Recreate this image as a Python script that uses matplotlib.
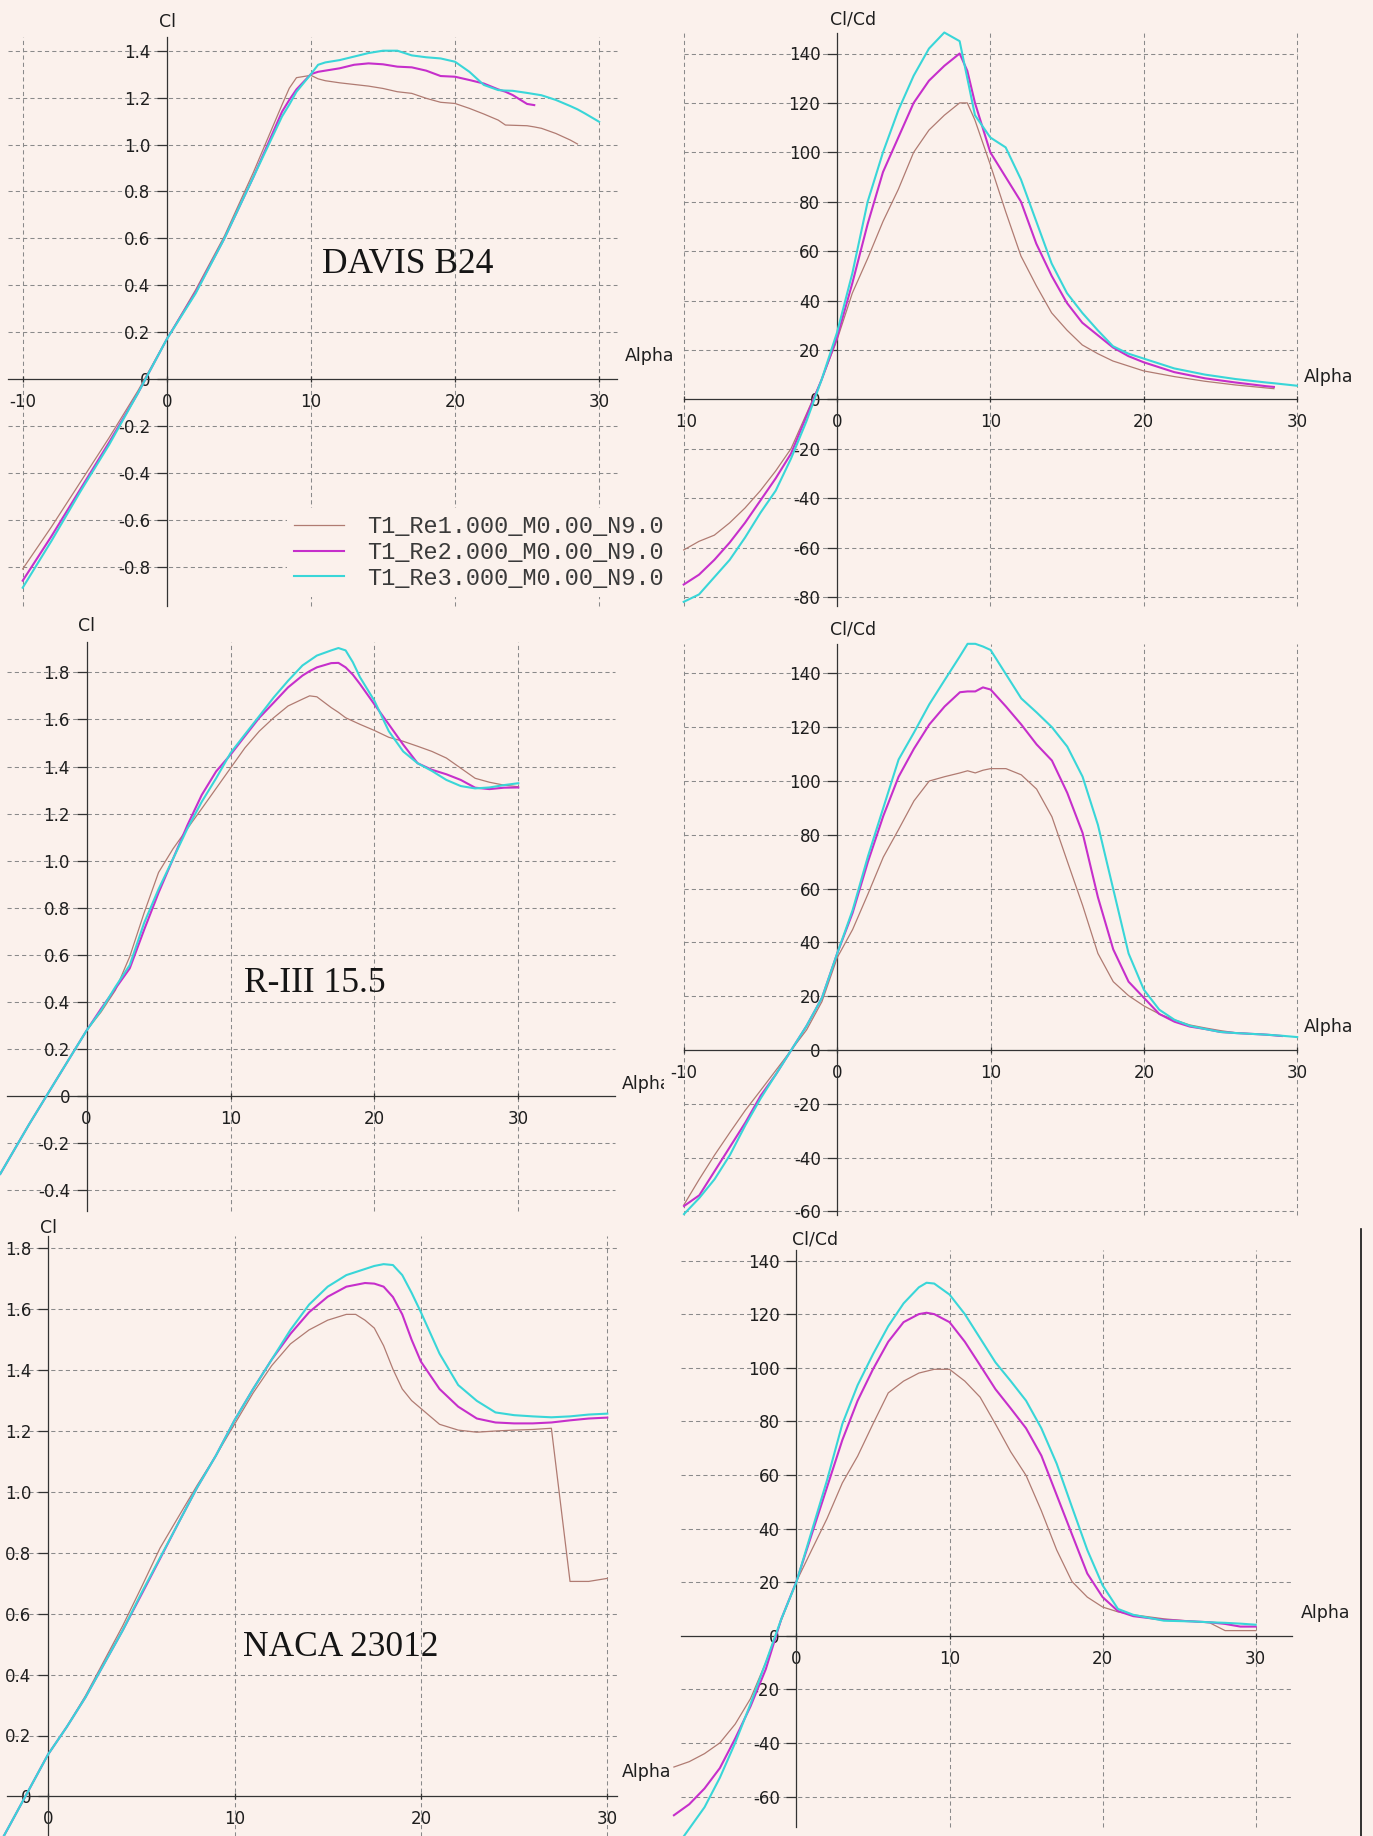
import matplotlib
matplotlib.use("Agg")
import matplotlib.pyplot as plt

plt.rcParams['axes.unicode_minus'] = False
plt.rcParams['font.family'] = ['DejaVu Sans']

# ---------------------------------------------------------------- data
series_labels = ['T1_Re1.000_M0.00_N9.0', 'T1_Re2.000_M0.00_N9.0', 'T1_Re3.000_M0.00_N9.0']

# DAVIS B24 - Cl vs Alpha
davis_cl_alpha = [-10, -8, -6, -4, -2, 0, 2, 4, 6, 8, 8.5, 9, 10, 10.5, 11, 12, 13, 14, 15, 16,
                  17, 18, 19, 20, 21, 22, 23, 23.5, 24, 25, 25.5, 26, 27, 28, 28.5, 29, 30]
davis_cl_re1 = [-0.81, -0.63, -0.44, -0.25, -0.05, 0.17, 0.38, 0.61, 0.88, 1.17, 1.24, 1.285, 1.295,
                1.28, 1.272, 1.263, 1.256, 1.249, 1.239, 1.225, 1.218, 1.197, 1.18, 1.175, 1.154,
                1.13, 1.104, 1.083, 1.082, 1.08, 1.075, 1.069, 1.047, 1.019, 1.002]
davis_cl_re2 = [-0.86, -0.67, -0.47, -0.27, -0.06, 0.17, 0.37, 0.60, 0.86, 1.14, 1.19, 1.235, 1.30,
                1.31, 1.315, 1.325, 1.34, 1.346, 1.342, 1.332, 1.329, 1.315, 1.292, 1.289, 1.275,
                1.26, 1.235, 1.225, 1.211, 1.173, 1.168]
davis_cl_re3 = [-0.89, -0.69, -0.48, -0.28, -0.06, 0.17, 0.365, 0.60, 0.86, 1.12, 1.17, 1.225, 1.30,
                1.34, 1.35, 1.36, 1.375, 1.39, 1.40, 1.40, 1.38, 1.372, 1.367, 1.353, 1.31,
                1.254, 1.232, 1.23, 1.229, 1.22, 1.215, 1.21, 1.19, 1.164, 1.15, 1.133, 1.097]

# DAVIS B24 - Cl/Cd vs Alpha
davis_ld_alpha = [-10, -9, -8, -7, -6, -5, -4, -3, -2, -1, 0, 1, 2, 3, 4, 5, 6, 7, 8, 8.5,
                  9, 10, 11, 12, 13, 14, 15, 16, 17, 18, 19, 20, 22, 24, 26, 28, 28.5, 30]
davis_ld_re1 = [-61, -57.5, -55, -50, -44, -37, -29, -20, -6, 8, 24, 43, 57, 72, 85, 100, 109, 115,
                120, 120, 113, 95, 76, 58, 46, 35, 28, 22, 18.5, 15.5, 13.5, 11.5, 9.2, 7.3, 5.8,
                4.6, 4.3]
davis_ld_re2 = [-75, -71, -65, -58, -50, -41, -32, -22, -7, 8, 25, 47, 71, 92, 106, 120, 129, 135,
                140, 133, 120, 100, 90, 80, 63, 50, 39, 31, 26, 21, 17.5, 15, 11, 8.5, 6.8, 5.3, 5.0]
davis_ld_re3 = [-82, -79, -72, -65, -56, -46, -37, -24, -9, 8, 27, 51, 80, 100, 117, 131, 142, 148.5,
                145, 130, 115, 106, 102, 89, 72, 55, 43, 35, 28, 21.5, 18.5, 16.5, 12.5, 10, 8.2,
                6.8, 6.5, 5.5]

# R-III 15.5 - Cl vs Alpha
r3_cl_alpha = [-6, -4, -2, 0, 1, 2, 3, 4, 5, 6, 7, 8, 9, 10, 11, 12, 13, 14, 15, 15.5, 16, 17,
               17.5, 18, 18.5, 19, 20, 21, 22, 23, 24, 25, 26, 27, 28, 29, 30]
r3_cl_re1 = [-0.33, -0.12, 0.08, 0.279, 0.357, 0.45, 0.593, 0.779, 0.95, 1.05, 1.136, 1.221, 1.307,
             1.393, 1.479, 1.55, 1.607, 1.657, 1.686, 1.70, 1.696, 1.65, 1.63, 1.607, 1.593, 1.579,
             1.553, 1.524, 1.507, 1.486, 1.464, 1.436, 1.393, 1.35, 1.333, 1.321, 1.314]
r3_cl_re2 = [-0.33, -0.12, 0.08, 0.279, 0.371, 0.457, 0.543, 0.707, 0.864, 1.007, 1.15, 1.279, 1.379,
             1.45, 1.529, 1.607, 1.671, 1.736, 1.786, 1.805, 1.821, 1.839, 1.84, 1.821, 1.79, 1.75,
             1.664, 1.579, 1.493, 1.414, 1.386, 1.367, 1.343, 1.31, 1.304, 1.31, 1.311]
r3_cl_re3 = [-0.33, -0.12, 0.08, 0.279, 0.364, 0.464, 0.557, 0.736, 0.879, 1.007, 1.136, 1.25, 1.35,
             1.457, 1.536, 1.614, 1.693, 1.764, 1.829, 1.85, 1.871, 1.893, 1.903, 1.893, 1.843,
             1.779, 1.679, 1.55, 1.464, 1.414, 1.381, 1.343, 1.317, 1.307, 1.311, 1.321, 1.329]

# R-III 15.5 - Cl/Cd vs Alpha
r3_ld_alpha = [-10, -9, -8, -7, -6, -5, -4, -3, -2, -1, 0, 1, 2, 3, 4, 5, 6, 7, 8, 8.5, 9, 9.5,
               10, 11, 12, 13, 14, 15, 16, 17, 18, 19, 20, 21, 22, 23, 24, 25, 26, 28, 29, 30]
r3_ld_re1 = [-57.5, -48, -39, -30.6, -22.4, -15, -7.5, 0, 7.5, 18, 34.4, 44.8, 58, 71.7, 82, 92.6,
             100, 101.6, 103, 103.8, 103, 104, 104.6, 104.6, 102.3, 97, 86.7, 70.2, 53.8, 35.9,
             25.4, 20.2, 16.4, 13.4, 11.2, 9.3, 8.2, 7.2, 6.4, 5.7, 5.2]
r3_ld_re2 = [-58, -54, -45, -36, -27, -17, -9, 0, 9, 19.4, 36, 51, 70, 87, 101.6, 112, 121, 127.7,
             133, 133.3, 133.3, 134.8, 134, 127.7, 121, 113.6, 107.6, 95.6, 80.7, 56.8, 37.4, 25.4,
             19.4, 13.4, 10.5, 8.7, 7.8, 6.7, 6.3, 5.7, 5.2]
r3_ld_re3 = [-61, -55, -48, -39, -28, -18, -9, 0, 9, 19.4, 36, 52, 72, 90, 108, 118, 128.5, 137.5,
             146.4, 151, 151, 150, 148.7, 139.7, 130.7, 125.5, 120, 112.8, 101.6, 83.7, 59.8, 35.9,
             22.4, 15, 11.2, 9, 7.8, 6.7, 6.3, 5.7, 5.3, 4.8]

# NACA 23012 - Cl vs Alpha
naca_cl_alpha = [-3, -2, -1, 0, 1, 2, 3, 4, 5, 6, 7, 8, 9, 10, 11, 12, 13, 14, 15, 16, 16.5, 17,
                 17.5, 18, 18.5, 19, 19.5, 20, 21, 22, 23, 24, 25, 26, 27, 28, 29, 30]
naca_cl_re1 = [-0.2, -0.088, 0.025, 0.138, 0.228, 0.33, 0.445, 0.56, 0.686, 0.815, 0.919, 1.022,
               1.119, 1.222, 1.325, 1.415, 1.486, 1.532, 1.564, 1.583, 1.583, 1.564, 1.538, 1.48,
               1.403, 1.338, 1.30, 1.274, 1.222, 1.203, 1.196, 1.2, 1.203, 1.205, 1.209, 0.706,
               0.706, 0.716]
naca_cl_re2 = [-0.2, -0.088, 0.025, 0.138, 0.228, 0.325, 0.435, 0.545, 0.662, 0.78, 0.899, 1.015,
               1.119, 1.235, 1.338, 1.435, 1.519, 1.59, 1.641, 1.674, 1.68, 1.686, 1.684, 1.674,
               1.64, 1.583, 1.50, 1.428, 1.338, 1.28, 1.241, 1.228, 1.225, 1.225, 1.228, 1.235,
               1.241, 1.244]
naca_cl_re3 = [-0.2, -0.088, 0.025, 0.138, 0.228, 0.325, 0.435, 0.545, 0.667, 0.783, 0.899, 1.015,
               1.119, 1.235, 1.338, 1.435, 1.532, 1.615, 1.674, 1.712, 1.722, 1.732, 1.742, 1.748,
               1.745, 1.712, 1.654, 1.59, 1.454, 1.351, 1.299, 1.261, 1.252, 1.248, 1.245, 1.248,
               1.254, 1.257]

# NACA 23012 - Cl/Cd vs Alpha
naca_ld_alpha = [-8, -7, -6, -5, -4, -3, -2, -1, 0, 1, 2, 3, 4, 5, 6, 7, 8, 8.5, 9, 10, 11, 12, 13,
                 14, 15, 16, 17, 18, 19, 20, 21, 22, 24, 26, 27, 28, 29, 30]
naca_ld_re1 = [-49, -47, -44, -40, -33, -23.5, -10, 5.6, 20.2, 32, 43.7, 57, 67, 79, 90.6, 95, 98,
               98.7, 99.4, 99.4, 95, 89, 79, 68.6, 59.8, 46.6, 32, 20.2, 14.4, 10.7, 8.9, 7.8, 6.3,
               5.3, 4.8, 1.9, 1.9, 1.9]
naca_ld_re2 = [-67, -62.9, -57, -49.4, -38.4, -26.4, -12.5, 6, 20.2, 37.8, 55.4, 73, 87.7, 99.4,
               109.7, 117, 120, 120.5, 120, 117, 109.7, 100.9, 92, 84.8, 77.4, 67.2, 52.5, 37.8,
               23.2, 14.4, 9.2, 7.3, 5.9, 5.3, 5.0, 4.4, 3.4, 3.4]
naca_ld_re3 = [-80, -72, -64, -53, -40, -25.5, -10, 6, 20, 39, 58, 79, 93.5, 105, 115.5, 124, 130,
               131.7, 131.4, 127.3, 120, 111, 102, 95, 87.7, 77.4, 64.2, 48, 32, 18.8, 10, 7.8,
               5.6, 5.3, 5.0, 4.8, 4.5, 4.1]

cl_ticks_davis = [-0.8, -0.6, -0.4, -0.2, 0, 0.2, 0.4, 0.6, 0.8, 1.0, 1.2, 1.4]
cl_ticks_r3 = [-0.4, -0.2, 0, 0.2, 0.4, 0.6, 0.8, 1.0, 1.2, 1.4, 1.6, 1.8]
cl_ticks_naca = [0, 0.2, 0.4, 0.6, 0.8, 1.0, 1.2, 1.4, 1.6, 1.8]
ld_ticks_davis = [-80, -60, -40, -20, 0, 20, 40, 60, 80, 100, 120, 140]
ld_ticks_r3 = [-60, -40, -20, 0, 20, 40, 60, 80, 100, 120, 140]
ld_ticks_naca = [-60, -40, -20, 0, 20, 40, 60, 80, 100, 120, 140]
alpha_ticks_full = [-10, 0, 10, 20, 30]
alpha_ticks_pos = [0, 10, 20, 30]

# ---------------------------------------------------------------- style
W, H, DPI = 1373, 1836, 100
BG = '#FBF1EC'
AXIS_C = '#333333'
GRID_C = '#8a8a8a'
TXT_C = '#1e1e1e'
COLORS = ['#B07B72', '#C62FCB', '#39D6D8']
LWS = [0.9, 1.5, 1.5]

fig = plt.figure(figsize=(W / DPI, H / DPI), dpi=DPI, facecolor=BG)


def make_panel(rect, x0px, xppu, y0px, yppu):
    left, top, right, bottom = rect
    ax = fig.add_axes([left / W, 1 - bottom / H, (right - left) / W, (bottom - top) / H])
    ax.set_xlim((left - x0px) / xppu, (right - x0px) / xppu)
    ax.set_ylim((y0px - bottom) / yppu, (y0px - top) / yppu)
    ax.set_facecolor(BG)
    ax._px = lambda px, py: ((px - x0px) / xppu, (y0px - py) / yppu)
    return ax


def decorate(ax, xticks, yticks, hspan, vspan, ylab, ylab_px, alpha_px, yfmt):
    xa = ax._px(hspan[0], 0)[0]
    xb = ax._px(hspan[1], 0)[0]
    ya = ax._px(0, vspan[1])[1]
    yb = ax._px(0, vspan[0])[1]
    for s in ['top', 'right']:
        ax.spines[s].set_visible(False)
    for s in ['left', 'bottom']:
        ax.spines[s].set_position(('data', 0))
        ax.spines[s].set_color(AXIS_C)
        ax.spines[s].set_linewidth(0.9)
        ax.spines[s].set_zorder(2.6)
    ax.spines['left'].set_bounds(ya, yb)
    ax.spines['bottom'].set_bounds(xa, xb)
    dash = (0, (4.0, 3.0))
    ax.hlines([t for t in yticks if t != 0], xa, xb, colors=GRID_C, linestyles=dash,
              linewidth=0.75, zorder=1)
    ax.vlines([t for t in xticks if t != 0], ya, yb, colors=GRID_C, linestyles=dash,
              linewidth=0.75, zorder=1)
    ax.set_xticks(xticks, [str(t) for t in xticks])
    ax.set_yticks(yticks, [yfmt(t) for t in yticks])
    ax.tick_params(axis='y', direction='out', length=7.5, width=0.9, color=AXIS_C, pad=4.5,
                   labelsize=12, labelcolor=TXT_C)
    ax.tick_params(axis='x', direction='inout', length=5, width=0.9, color=AXIS_C, pad=7.5,
                   labelsize=12, labelcolor=TXT_C)
    for lab in ax.get_xticklabels() + ax.get_yticklabels():
        lab.set_clip_box(ax.bbox)
        lab.set_clip_on(True)
    ax.text(*ax._px(*ylab_px), ylab, ha='center', va='center', fontsize=12.5, color=TXT_C)
    ax.text(*ax._px(*alpha_px), 'Alpha', ha='center', va='center', fontsize=12.5, color=TXT_C)


def fmt_cl(t):
    return '0' if t == 0 else f'{t:.1f}'


def fmt_ld(t):
    return f'{t:d}'


def curves(ax, alpha, series):
    handles = []
    for y, c, lw, lab in zip(series, COLORS, LWS, series_labels):
        h, = ax.plot(alpha[:len(y)], y, color=c, lw=lw, zorder=3, label=lab,
                     solid_joinstyle='round')
        handles.append(h)
    return handles


def title(ax, txt, px):
    ax.text(*ax._px(*px), txt, ha='center', va='baseline', fontsize=25.5,
            family='Liberation Serif', color='#151515', zorder=4)


# ---------------------------------------------------------------- panel 1
ax1 = make_panel((0, 0, 677, 610), 166.8, 14.41, 379.0, 234.5)
decorate(ax1, alpha_ticks_full, cl_ticks_davis, (8, 617), (37, 606), 'Cl', (167, 21.5),
         (650, 356), fmt_cl)
hs = curves(ax1, davis_cl_alpha, [davis_cl_re1, davis_cl_re2, davis_cl_re3])
title(ax1, 'DAVIS B24', (408, 273))
leg = ax1.legend(hs, series_labels, loc='upper left', bbox_to_anchor=(287 / W, 1 - 508 / H),
                 bbox_transform=fig.transFigure, prop={'family': 'Liberation Mono', 'size': 17},
                 frameon=True, facecolor=BG, edgecolor='none', framealpha=1, fancybox=False,
                 borderpad=0.3, handlelength=2.1, handletextpad=1.0, labelspacing=0.12,
                 borderaxespad=0)
for t in leg.get_texts():
    t.set_color('#3a3a3a')

# ---------------------------------------------------------------- panel 2
ax2 = make_panel((677, 0, 1373, 610), 837.0, 15.33, 399.3, 2.47)
decorate(ax2, alpha_ticks_full, ld_ticks_davis, (684, 1297), (33, 606), 'Cl/Cd', (853, 19),
         (1329, 377), fmt_ld)
curves(ax2, davis_ld_alpha, [davis_ld_re1, davis_ld_re2, davis_ld_re3])

# ---------------------------------------------------------------- panel 3
ax3 = make_panel((0, 610, 664, 1218), 86.6, 14.39, 1096.2, 235.5)
decorate(ax3, alpha_ticks_pos, cl_ticks_r3, (6.6, 614.7), (642, 1211), 'Cl', (86.6, 626),
         (647, 1084), fmt_cl)
curves(ax3, r3_cl_alpha, [r3_cl_re1, r3_cl_re2, r3_cl_re3])
title(ax3, 'R-III 15.5', (315, 991.7))

# ---------------------------------------------------------------- panel 4
ax4 = make_panel((664, 610, 1373, 1218), 837.3, 15.33, 1050.0, 2.69)
decorate(ax4, alpha_ticks_full, ld_ticks_r3, (684, 1297), (644, 1214.7), 'Cl/Cd', (853, 630),
         (1329, 1027), fmt_ld)
curves(ax4, r3_ld_alpha, [r3_ld_re1, r3_ld_re2, r3_ld_re3])

# ---------------------------------------------------------------- panel 5
ax5 = make_panel((0, 1218, 670, 1836), 48.1, 18.64, 1796.4, 304.5)
decorate(ax5, alpha_ticks_pos, cl_ticks_naca, (6.6, 617), (1235.7, 1836), 'Cl', (48, 1228),
         (646.6, 1772), fmt_cl)
curves(ax5, naca_cl_alpha, [naca_cl_re1, naca_cl_re2, naca_cl_re3])
title(ax5, 'NACA 23012', (341, 1656))

# ---------------------------------------------------------------- panel 6
ax6 = make_panel((670, 1218, 1361, 1836), 796.4, 15.31, 1635.7, 2.68)
decorate(ax6, alpha_ticks_pos, ld_ticks_naca, (680.5, 1292), (1249.5, 1827), 'Cl/Cd',
         (814.6, 1240), (1326, 1613), fmt_ld)
curves(ax6, naca_ld_alpha, [naca_ld_re1, naca_ld_re2, naca_ld_re3])
ax6.spines['right'].set_visible(True)
ax6.spines['right'].set_color('#111111')
ax6.spines['right'].set_linewidth(1.2)
ax6.spines['right'].set_bounds(ax6.get_ylim()[0], ax6._px(0, 1229)[1])

fig.savefig('out.png', dpi=DPI, facecolor=BG)
